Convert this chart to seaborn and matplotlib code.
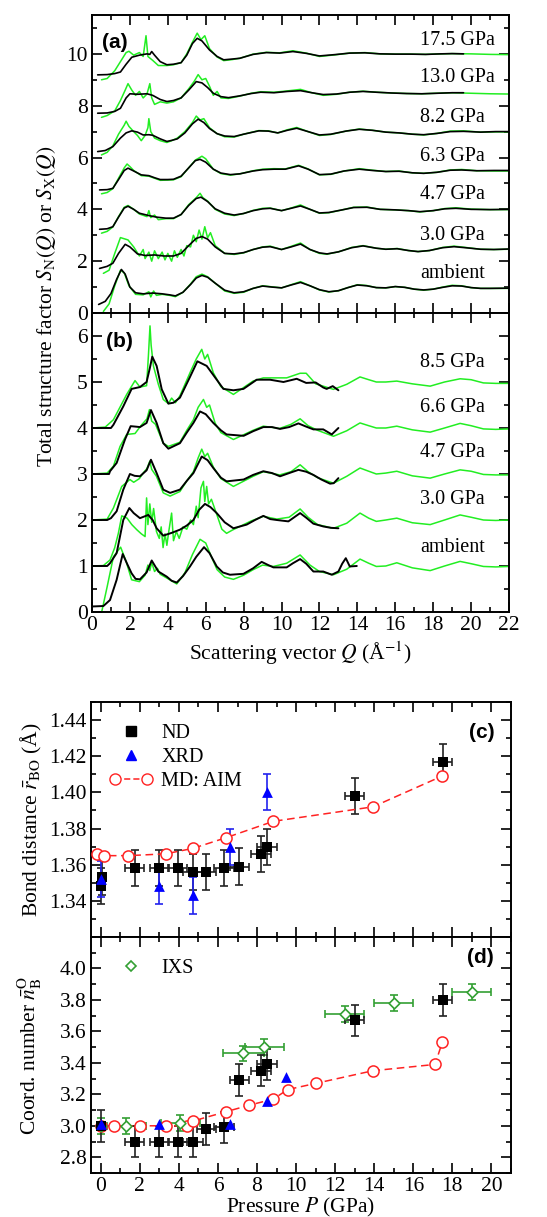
import numpy as np
import pandas as pd
import matplotlib
matplotlib.use("Agg")
import matplotlib.pyplot as plt
from matplotlib.ticker import MultipleLocator
from matplotlib.lines import Line2D
from matplotlib.legend_handler import HandlerLine2D
import seaborn as sns

# ---------------- data: panel (a)  (Q, S) pairs ----------------
a_amb_k = [(0.35,0.33),(0.7,0.45),(1.0,0.75),(1.3,1.3),(1.55,1.68),(1.75,1.5),(2.0,1.0),(2.3,0.78),(2.7,0.74),(3.2,0.77),(3.7,0.74),(4.1,0.70),(4.4,0.66),(4.8,0.80),(5.2,1.10),(5.5,1.35),(5.8,1.45),(6.1,1.38),(6.5,1.15),(7.0,0.88),(7.5,0.78),(8.0,0.82),(8.5,0.95),(9.0,1.04),(9.5,1.0),(10.0,0.97),(10.5,1.08),(11.0,1.18),(11.5,1.05),(12.0,0.90),(12.5,0.82),(13.0,0.86),(13.5,0.98),(14.0,1.08),(14.5,1.05),(15.0,0.98),(15.5,0.97),(16.0,1.02),(16.5,0.99),(17.0,0.92),(17.5,0.89),(18.0,0.92),(18.5,0.99),(19.0,1.05),(19.5,1.04),(20.0,0.98),(20.5,0.95),(21.0,0.95),(22.0,0.96)]
a_amb_g = [(0.6,0.06),(0.9,0.35),(1.2,1.05),(1.5,1.65),(1.7,1.55),(1.95,1.05),(2.3,0.72),(2.7,0.70),(3.0,0.82),(3.1,0.62),(3.25,0.85),(3.4,0.68),(3.7,0.72),(4.1,0.68),(4.4,0.63),(4.8,0.80),(5.2,1.12),(5.5,1.40),(5.8,1.50),(6.1,1.40),(6.5,1.15),(7.0,0.85),(7.5,0.76),(8.0,0.80),(8.5,0.95),(9.0,1.05),(9.5,1.01),(10.0,0.97),(10.5,1.09),(11.0,1.21),(11.5,1.05),(12.0,0.89),(12.5,0.81),(13.0,0.86),(13.5,0.98),(14.0,1.09),(14.5,1.06),(15.0,0.98),(15.5,0.97),(16.0,1.02),(16.5,0.99),(17.0,0.92),(17.5,0.88),(18.0,0.92),(18.5,1.0),(19.0,1.07),(19.5,1.05),(20.0,0.98),(20.5,0.95),(21.0,0.95),(22.0,0.95)]
a_30_k = [(0.4,1.72),(0.8,1.80),(1.1,1.92),(1.4,2.3),(1.75,2.65),(2.0,2.55),(2.4,2.28),(2.8,2.22),(3.3,2.24),(3.8,2.2),(4.3,2.2),(4.7,2.3),(5.1,2.6),(5.5,2.88),(5.8,2.95),(6.1,2.85),(6.5,2.55),(7.0,2.3),(7.5,2.28),(8.0,2.33),(8.5,2.45),(9.0,2.54),(9.4,2.56),(10.0,2.45),(10.5,2.55),(11.0,2.66),(11.5,2.45),(12.0,2.32),(12.4,2.28),(13.0,2.36),(13.7,2.52),(14.3,2.59),(15.0,2.50),(15.5,2.46),(16.1,2.48),(16.7,2.41),(17.2,2.37),(17.8,2.41),(18.5,2.52),(19.1,2.56),(19.7,2.52),(20.5,2.46),(21.2,2.45),(22.0,2.47)]
a_30_g = [(0.6,1.53),(0.9,1.65),(1.2,2.3),(1.5,2.91),(1.9,2.82),(2.2,2.55),(2.5,2.2),(2.7,2.45),(2.8,2.1),(3.0,2.35),(3.15,2.0),(3.3,2.4),(3.5,2.1),(3.7,2.35),(3.85,2.05),(4.0,2.3),(4.2,2.0),(4.35,2.4),(4.5,2.15),(4.7,2.45),(4.85,2.2),(5.0,2.6),(5.2,2.55),(5.35,3.0),(5.5,2.75),(5.65,3.2),(5.8,2.85),(5.95,3.33),(6.1,2.9),(6.25,3.1),(6.5,2.6),(7.0,2.3),(7.5,2.26),(8.0,2.32),(8.5,2.45),(9.0,2.55),(9.4,2.58),(10.0,2.45),(10.5,2.57),(11.0,2.70),(11.5,2.45),(12.0,2.3),(12.4,2.27),(13.0,2.36),(13.7,2.53),(14.3,2.6),(15.0,2.5),(15.5,2.46),(16.1,2.49),(16.7,2.41),(17.2,2.37),(17.8,2.41),(18.5,2.53),(19.1,2.58),(19.7,2.53),(20.5,2.46),(21.2,2.45),(22.0,2.46)]
a_47_k = [(0.4,3.23),(0.8,3.25),(1.1,3.33),(1.4,3.7),(1.7,4.05),(1.9,4.12),(2.2,4.0),(2.5,3.85),(3.0,3.76),(3.4,3.70),(3.9,3.66),(4.3,3.66),(4.7,3.8),(5.1,4.15),(5.5,4.42),(5.75,4.47),(6.1,4.3),(6.5,4.02),(7.0,3.85),(7.5,3.78),(8.0,3.84),(8.5,3.95),(9.0,4.02),(9.4,4.04),(10.0,3.95),(10.5,4.04),(11.0,4.13),(11.5,4.0),(12.0,3.86),(12.5,3.88),(13.2,3.98),(13.8,4.07),(14.5,4.08),(15.2,4.0),(16.0,3.98),(16.7,3.95),(17.3,3.91),(18.0,3.95),(18.6,4.02),(19.2,4.04),(20.0,4.0),(21.0,3.99),(22.0,4.0)]
a_47_g = [(0.5,3.08),(0.8,3.15),(1.1,3.32),(1.4,3.72),(1.7,4.08),(1.9,4.15),(2.2,4.0),(2.5,3.82),(2.9,3.72),(3.0,3.95),(3.1,3.68),(3.3,3.78),(3.5,3.6),(3.9,3.64),(4.3,3.64),(4.7,3.8),(5.1,4.18),(5.5,4.45),(5.7,4.62),(5.85,4.45),(6.1,4.32),(6.5,4.0),(7.0,3.82),(7.5,3.76),(8.0,3.84),(8.5,3.96),(9.0,4.04),(9.4,4.05),(10.0,3.95),(10.5,4.05),(11.0,4.17),(11.5,4.0),(12.0,3.85),(12.5,3.87),(13.2,3.98),(13.8,4.08),(14.5,4.09),(15.2,4.0),(16.0,3.98),(16.7,3.95),(17.3,3.9),(18.0,3.95),(18.6,4.03),(19.2,4.06),(20.0,4.01),(21.0,3.99),(22.0,3.99)]
a_63_k = [(0.4,4.75),(0.8,4.76),(1.1,4.81),(1.4,5.15),(1.7,5.5),(1.9,5.59),(2.2,5.48),(2.6,5.33),(3.0,5.3),(3.3,5.22),(3.6,5.15),(4.0,5.15),(4.3,5.16),(4.7,5.28),(5.1,5.6),(5.45,5.88),(5.7,5.93),(6.0,5.82),(6.4,5.55),(6.8,5.4),(7.3,5.34),(7.8,5.37),(8.5,5.48),(9.0,5.53),(9.6,5.55),(10.2,5.55),(10.9,5.68),(11.4,5.55),(12.0,5.34),(12.6,5.36),(13.3,5.48),(14.1,5.55),(14.8,5.5),(15.5,5.46),(16.2,5.47),(16.9,5.41),(17.5,5.39),(18.2,5.43),(18.9,5.51),(19.5,5.52),(20.3,5.49),(21.2,5.5),(22.0,5.5)]
a_63_g = [(0.5,4.6),(0.8,4.65),(1.1,4.8),(1.4,5.2),(1.7,5.6),(1.85,5.75),(2.0,5.65),(2.2,5.5),(2.6,5.3),(3.0,5.28),(3.3,5.2),(3.6,5.12),(4.0,5.13),(4.3,5.14),(4.7,5.26),(5.1,5.6),(5.45,5.9),(5.8,6.05),(6.0,5.95),(6.4,5.55),(6.8,5.38),(7.3,5.32),(7.8,5.37),(8.5,5.49),(9.0,5.55),(9.6,5.57),(10.2,5.56),(10.9,5.7),(11.4,5.56),(12.0,5.33),(12.6,5.35),(13.3,5.48),(14.1,5.57),(14.8,5.51),(15.5,5.46),(16.2,5.48),(16.9,5.41),(17.5,5.39),(18.2,5.43),(18.9,5.52),(19.5,5.54),(20.3,5.49),(21.2,5.48),(22.0,5.48)]
a_82_k = [(0.3,6.23),(0.7,6.27),(1.1,6.42),(1.5,6.75),(1.8,6.95),(2.1,7.03),(2.4,6.98),(2.7,6.87),(3.0,6.88),(3.2,6.86),(3.6,6.72),(3.95,6.62),(4.2,6.66),(4.5,6.72),(4.9,6.95),(5.3,7.3),(5.6,7.48),(5.9,7.35),(6.2,7.12),(6.6,6.92),(7.0,6.83),(7.5,6.81),(8.0,6.9),(8.8,7.03),(9.3,7.02),(9.8,6.95),(10.3,7.05),(10.8,7.13),(11.4,7.0),(12.0,6.87),(12.6,6.9),(13.4,7.02),(14.1,7.09),(14.8,7.05),(15.5,6.98),(16.2,6.95),(16.9,6.9),(17.5,6.88),(18.2,6.93),(18.9,7.0),(19.6,7.01),(20.5,6.98),(21.3,7.0),(22.0,7.0)]
a_82_g = [(0.5,6.1),(0.8,6.2),(1.1,6.45),(1.4,6.9),(1.7,7.25),(1.8,7.4),(1.95,7.2),(2.2,7.0),(2.4,6.85),(2.6,6.65),(2.8,6.85),(2.95,7.15),(3.0,7.5),(3.1,7.0),(3.3,6.75),(3.6,6.65),(3.95,6.58),(4.2,6.65),(4.5,6.75),(4.9,7.0),(5.3,7.35),(5.5,7.6),(5.7,7.45),(5.9,7.5),(6.2,7.15),(6.6,6.92),(7.0,6.8),(7.5,6.79),(8.0,6.9),(8.8,7.04),(9.3,7.03),(9.8,6.95),(10.3,7.07),(10.8,7.16),(11.4,7.0),(12.0,6.85),(12.6,6.89),(13.4,7.02),(14.1,7.1),(14.8,7.05),(15.5,6.98),(16.2,6.95),(16.9,6.9),(17.5,6.87),(18.2,6.93),(18.9,7.02),(19.6,7.03),(20.5,6.98),(21.3,6.99),(22.0,6.99)]
a_130_k = [(0.3,7.71),(0.8,7.72),(1.2,7.78),(1.5,7.9),(1.8,8.3),(2.0,8.46),(2.4,8.44),(2.9,8.46),(3.2,8.4),(3.6,8.24),(3.95,8.16),(4.3,8.2),(4.7,8.3),(5.1,8.6),(5.5,8.93),(5.8,8.88),(6.1,8.7),(6.4,8.48),(6.8,8.35),(7.2,8.31),(7.8,8.38),(8.4,8.47),(8.9,8.52),(9.6,8.5),(10.3,8.55),(11.0,8.58),(11.6,8.5),(12.2,8.43),(12.9,8.45),(13.6,8.52),(14.3,8.55),(15.0,8.52),(15.8,8.49),(16.6,8.47),(17.4,8.46),(18.2,8.48),(19.0,8.5),(19.6,8.5)]
a_130_g = [(0.5,7.55),(0.8,7.62),(1.2,7.8),(1.5,8.2),(1.75,8.6),(1.9,8.85),(2.1,8.6),(2.3,8.4),(2.5,8.55),(2.7,8.3),(2.9,8.45),(3.05,8.85),(3.15,8.3),(3.3,8.05),(3.6,8.15),(3.95,8.1),(4.3,8.15),(4.7,8.3),(5.1,8.65),(5.4,8.95),(5.6,9.2),(5.8,9.0),(6.0,9.05),(6.2,8.75),(6.4,8.4),(6.6,8.55),(6.8,8.3),(7.2,8.28),(7.8,8.37),(8.4,8.48),(8.9,8.54),(9.6,8.52),(10.3,8.57),(11.0,8.63),(11.6,8.5),(12.2,8.4),(12.9,8.44),(13.6,8.52),(14.3,8.56),(15.0,8.52),(15.8,8.49),(16.6,8.47),(17.4,8.46),(18.2,8.48),(19.0,8.5),(20.0,8.48),(21.0,8.46),(22.0,8.45)]
a_175_k = [(0.3,9.19),(0.8,9.2),(1.2,9.24),(1.5,9.3),(1.8,9.6),(2.1,9.87),(2.5,9.95),(2.9,10.0),(3.05,9.98),(3.15,10.09),(3.3,9.95),(3.6,9.7),(3.95,9.58),(4.3,9.6),(4.7,9.66),(5.0,9.95),(5.3,10.4),(5.55,10.6),(5.8,10.5),(6.2,10.15),(6.6,9.9),(6.95,9.77),(7.4,9.8),(7.8,9.83),(8.5,9.98),(9.2,10.05),(9.9,10.03),(10.6,10.09),(11.3,10.02),(12.0,9.92),(12.8,9.97),(13.6,10.03),(14.4,10.04),(15.2,10.0),(16.0,9.99),(16.8,9.99),(17.6,9.98),(18.4,10.0),(19.0,10.01),(19.6,10.0)]
a_175_g = [(0.5,9.0),(0.8,9.05),(1.2,9.35),(1.5,9.7),(1.8,10.05),(1.95,10.1),(2.2,9.95),(2.5,10.05),(2.7,9.9),(2.85,10.7),(2.95,9.9),(3.2,9.75),(3.5,9.55),(3.95,9.55),(4.3,9.58),(4.7,9.66),(5.0,10.0),(5.3,10.45),(5.55,10.8),(5.75,10.55),(5.95,10.7),(6.2,10.2),(6.6,9.88),(6.95,9.74),(7.4,9.78),(7.8,9.83),(8.5,9.99),(9.2,10.06),(9.9,10.04),(10.6,10.12),(11.3,10.03),(12.0,9.9),(12.8,9.96),(13.6,10.03),(14.4,10.05),(15.2,10.0),(16.0,9.99),(16.8,9.99),(17.6,9.98),(18.4,10.0),(19.0,10.01),(20.0,10.0),(21.0,9.98),(22.0,9.97)]

a_labels = ["ambient", "3.0 GPa", "4.7 GPa", "6.3 GPa", "8.2 GPa", "13.0 GPa", "17.5 GPa"]
a_label_y = [1.51, 3.01, 4.56, 6.04, 7.56, 9.1, 10.51]

# ---------------- data: panel (b) ----------------
b_amb_k = [(0.0,0.12),(0.6,0.13),(0.95,0.26),(1.3,0.7),(1.62,1.26),(1.85,1.05),(2.09,0.84),(2.3,0.72),(2.53,0.71),(2.88,0.86),(3.15,1.12),(3.5,0.88),(3.94,0.77),(4.2,0.68),(4.47,0.64),(4.8,0.78),(5.17,0.99),(5.5,1.2),(5.91,1.41),(6.2,1.28),(6.58,0.99),(6.9,0.86),(7.28,0.81),(7.99,0.83),(8.5,0.95),(8.95,1.09),(9.3,1.02),(9.57,0.97),(10.27,0.97),(10.6,1.06),(10.98,1.15),(11.3,1.05),(11.68,0.88),(12.2,0.88),(12.65,0.81),(13.0,0.88),(13.2,1.05),(13.39,1.17),(13.6,0.99),(13.97,1.0)]
b_amb_g = [(0.51,0.0),(0.8,0.55),(1.13,1.2),(1.51,1.41),(1.8,1.1),(2.09,0.70),(2.5,0.66),(2.8,0.8),(2.95,1.02),(3.05,0.9),(3.15,1.08),(3.3,0.88),(3.45,0.95),(3.6,0.82),(3.94,0.74),(4.47,0.61),(4.9,0.85),(5.3,1.25),(5.7,1.58),(6.0,1.5),(6.3,1.2),(6.6,0.92),(7.0,0.76),(7.46,0.71),(8.0,0.80),(8.5,0.92),(9.0,1.02),(9.57,0.99),(10.27,1.06),(10.98,1.24),(11.5,1.02),(12.0,0.88),(12.74,0.81),(13.44,0.93),(14.14,1.15),(14.6,1.06),(15.0,0.99),(15.5,1.0),(16.08,1.07),(16.9,0.96),(17.84,0.9),(18.6,1.0),(19.42,1.10),(20.0,1.05),(20.65,0.99),(21.3,0.98),(22.0,0.99)]
b_30_k = [(0.0,1.0),(0.8,1.0),(0.95,1.06),(1.3,1.28),(1.65,2.0),(1.97,2.26),(2.2,2.15),(2.53,2.04),(2.97,2.11),(3.2,2.0),(3.41,1.82),(3.76,1.66),(4.2,1.72),(4.64,1.79),(5.0,1.88),(5.35,2.0),(5.65,2.22),(5.96,2.35),(6.25,2.28),(6.58,2.15),(7.0,1.95),(7.46,1.82),(8.16,1.9),(8.6,2.0),(9.04,2.09),(9.4,2.02),(9.75,2.0),(10.36,1.97),(10.98,2.15),(11.3,2.05),(11.68,1.92),(12.2,1.86),(12.6,1.83),(13.0,1.82)]
b_30_g = [(0.0,1.0),(0.6,1.01),(0.95,1.13),(1.2,1.4),(1.39,1.71),(1.57,2.09),(1.85,2.04),(2.1,1.9),(2.36,1.79),(2.6,1.7),(2.8,1.64),(2.88,2.48),(2.95,1.9),(3.05,2.35),(3.15,1.95),(3.25,2.25),(3.4,1.75),(3.55,1.6),(3.65,1.85),(3.75,1.4),(3.85,1.7),(3.95,1.45),(4.05,1.75),(4.2,2.15),(4.3,1.55),(4.45,1.75),(4.6,1.6),(4.8,1.85),(5.0,1.8),(5.2,2.0),(5.35,1.9),(5.5,2.3),(5.6,2.05),(5.75,2.7),(5.88,2.84),(5.95,2.4),(6.05,2.73),(6.15,2.35),(6.3,2.45),(6.6,2.1),(6.85,1.8),(7.1,1.71),(7.4,1.78),(7.8,1.86),(8.4,1.98),(9.04,2.08),(9.75,2.02),(10.4,2.06),(10.98,2.24),(11.4,2.06),(11.9,1.9),(12.74,1.82),(13.44,1.93),(14.14,2.15),(14.6,2.04),(15.0,1.97),(15.5,2.0),(16.08,2.04),(16.9,1.94),(17.84,1.9),(18.6,2.0),(19.42,2.11),(20.0,2.06),(20.65,2.0),(21.3,1.99),(22.0,2.0)]
b_47_k = [(0.0,2.0),(0.8,2.0),(1.0,2.04),(1.3,2.19),(1.65,2.66),(2.0,3.0),(2.25,2.96),(2.53,2.95),(2.88,3.08),(3.11,3.31),(3.41,3.02),(3.76,2.66),(4.12,2.59),(4.64,2.66),(5.0,2.85),(5.35,3.02),(5.79,3.38),(6.1,3.3),(6.4,3.13),(6.8,2.92),(7.1,2.84),(8.0,2.88),(8.5,2.98),(9.04,3.06),(9.5,3.02),(9.92,2.95),(10.4,3.02),(10.89,3.09),(11.3,3.05),(11.68,2.98),(12.1,2.88),(12.56,2.79),(12.75,2.8),(13.0,2.91)]
b_47_g = [(0.0,2.0),(0.8,2.02),(1.13,2.26),(1.57,2.73),(2.0,2.88),(2.2,2.82),(2.5,2.9),(2.7,3.02),(2.9,3.12),(3.05,3.28),(3.15,3.1),(3.4,2.95),(3.76,2.59),(4.12,2.52),(4.64,2.62),(5.0,2.85),(5.35,3.05),(5.6,3.35),(5.79,3.54),(5.95,3.38),(6.1,3.45),(6.4,3.15),(6.8,2.9),(7.46,2.73),(8.5,2.95),(9.04,3.05),(9.9,2.98),(10.5,3.05),(10.98,3.2),(11.4,3.05),(11.9,2.92),(12.74,2.8),(13.44,2.95),(14.14,3.13),(14.6,3.06),(15.0,3.0),(15.5,3.02),(16.08,3.06),(16.9,2.96),(17.84,2.91),(18.6,3.0),(19.42,3.09),(20.0,3.06),(20.65,2.99),(21.3,2.98),(22.0,2.98)]
b_66_k = [(0.0,3.0),(0.9,3.0),(0.95,3.06),(1.3,3.24),(1.74,3.75),(2.04,4.04),(2.3,4.03),(2.53,4.02),(2.88,4.11),(3.11,4.39),(3.41,4.11),(3.76,3.67),(4.03,3.55),(4.64,3.67),(5.0,3.9),(5.35,4.11),(5.7,4.36),(6.0,4.3),(6.4,4.11),(6.8,3.95),(7.1,3.86),(8.0,3.83),(8.5,3.93),(9.04,4.02),(9.5,4.02),(9.92,3.98),(10.4,4.02),(10.89,4.1),(11.3,4.03),(11.68,3.97),(12.2,3.97),(12.65,3.86),(13.0,4.0)]
b_66_g = [(0.0,3.0),(0.8,3.02),(1.13,3.17),(1.48,3.6),(1.83,3.86),(2.27,3.88),(2.6,4.06),(2.9,4.2),(3.03,4.4),(3.15,4.15),(3.35,4.08),(3.76,3.67),(4.03,3.6),(4.64,3.69),(5.0,3.95),(5.35,4.18),(5.6,4.45),(5.88,4.62),(6.05,4.45),(6.2,4.5),(6.5,4.1),(6.8,3.9),(7.46,3.75),(8.5,3.95),(9.04,4.04),(9.9,3.99),(10.5,4.08),(10.98,4.2),(11.4,4.05),(11.9,3.95),(12.74,3.82),(13.44,3.94),(14.14,4.11),(14.6,4.05),(15.0,4.0),(15.5,4.0),(16.08,4.04),(16.9,3.96),(17.84,3.91),(18.6,4.0),(19.42,4.1),(20.0,4.05),(20.65,3.98),(21.3,3.97),(22.0,3.98)]
b_85_k = [(0.0,4.0),(1.0,4.0),(1.13,4.07),(1.65,4.47),(2.09,4.85),(2.53,4.89),(2.88,5.0),(3.05,5.3),(3.18,5.55),(3.41,5.35),(3.68,4.84),(4.03,4.53),(4.3,4.55),(4.64,4.66),(5.17,5.11),(5.56,5.45),(6.05,5.35),(6.58,5.05),(6.93,4.85),(7.46,4.82),(7.99,4.85),(8.69,5.05),(9.39,5.05),(10.1,5.0),(10.8,5.07),(11.3,4.98),(11.8,4.99),(12.2,4.88),(12.38,4.85),(12.7,4.91),(13.0,4.82)]
b_85_g = [(0.0,4.0),(0.7,4.02),(1.13,4.18),(1.83,4.73),(2.27,5.03),(2.53,4.89),(2.88,4.92),(2.98,5.6),(3.06,6.22),(3.12,5.8),(3.24,5.35),(3.5,4.95),(3.76,4.62),(4.03,4.53),(4.2,4.65),(4.4,4.55),(4.64,4.7),(5.17,5.2),(5.5,5.5),(5.79,5.71),(5.95,5.5),(6.1,5.6),(6.4,5.2),(6.8,4.9),(7.46,4.73),(8.5,5.02),(9.04,5.09),(10.27,5.09),(10.98,5.19),(11.3,5.19),(11.8,4.96),(12.74,4.84),(13.44,4.95),(14.14,5.11),(14.6,5.05),(15.0,5.0),(15.5,5.0),(16.08,5.02),(16.9,4.96),(17.84,4.91),(18.6,5.0),(19.42,5.07),(20.0,5.05),(20.65,4.98),(21.3,4.97),(22.0,4.97)]

b_labels = ["ambient", "3.0 GPa", "4.7 GPa", "6.6 GPa", "8.5 GPa"]
b_label_y = [1.41, 2.45, 3.46, 4.44, 5.42]

# ---------------- data: panel (c) bond distance ----------------
c_nd_P    = [0.0, 0.05, 1.73, 3.0, 3.93, 4.71, 5.39, 6.31, 7.09, 8.2, 8.5, 13.0, 17.5]
c_nd_r    = [1.348, 1.353, 1.358, 1.358, 1.358, 1.356, 1.356, 1.358, 1.359, 1.366, 1.370, 1.398, 1.417]
c_nd_xerr = [0.0, 0.0, 0.5, 0.5, 0.5, 0.5, 0.5, 0.5, 0.5, 0.5, 0.5, 0.5, 0.5]
c_nd_yerr = [0.01] * 13
c_xrd_P   = [0.0, 3.0, 4.7, 6.6, 8.5]
c_xrd_r   = [1.352, 1.348, 1.343, 1.370, 1.400]
c_xrd_yerr = [0.01, 0.01, 0.01, 0.01, 0.01]
c_md_P    = [-0.2, 0.15, 1.41, 3.32, 4.71, 6.43, 8.84, 13.93, 17.47]
c_md_r    = [1.366, 1.365, 1.365, 1.366, 1.369, 1.375, 1.384, 1.392, 1.409]

# ---------------- data: panel (d) coordination number ----------------
d_nd_P    = [0.0, 1.73, 3.0, 3.93, 4.71, 5.41, 6.31, 7.09, 8.2, 8.5, 13.0, 17.5]
d_nd_n    = [3.0, 2.90, 2.90, 2.90, 2.90, 2.98, 2.99, 3.29, 3.35, 3.39, 3.67, 3.80]
d_nd_xerr = [0.0, 0.5, 0.5, 0.5, 0.5, 0.5, 0.5, 0.5, 0.5, 0.5, 0.5, 0.5]
d_nd_yerr = [0.1] * 12
d_xrd_P   = [0.0, 3.0, 6.6, 8.5, 9.5]
d_xrd_n   = [3.01, 3.01, 3.01, 3.16, 3.31]
d_ixs_P   = [0.0, 1.31, 4.08, 7.3, 8.38, 12.5, 15.0, 19.0]
d_ixs_n   = [3.0, 3.0, 3.02, 3.46, 3.50, 3.71, 3.78, 3.85]
d_ixs_xerr = [0.0, 1.0, 1.0, 1.05, 1.0, 1.0, 1.0, 1.0]
d_ixs_yerr = [0.05] * 8
d_md_P    = [0.0, 0.68, 2.0, 3.32, 4.39, 4.71, 6.43, 7.57, 8.84, 9.56, 11.02, 13.93, 17.11, 17.48]
d_md_n    = [3.0, 3.0, 3.0, 3.0, 3.0, 3.03, 3.09, 3.13, 3.17, 3.23, 3.27, 3.35, 3.39, 3.53]

# ---------------- style ----------------
sns.set_theme(style="ticks", rc={
    "axes.edgecolor": "black", "axes.linewidth": 1.4,
    "xtick.color": "black", "ytick.color": "black",
    "xtick.direction": "in", "ytick.direction": "in",
    "xtick.top": True, "ytick.right": True,
    "xtick.major.size": 7, "ytick.major.size": 7,
    "xtick.minor.size": 3.5, "ytick.minor.size": 3.5,
    "xtick.major.width": 1.2, "ytick.major.width": 1.2,
    "xtick.minor.width": 1.2, "ytick.minor.width": 1.2,
    "axes.labelcolor": "black", "text.color": "black",
})
plt.rcParams["font.family"] = ["Liberation Serif", "DejaVu Serif"]
plt.rcParams["mathtext.fontset"] = "stix"

GREEN = "#22ee22"
TICKFS = 15.5
LABFS = 15.5
TXTFS = 14.5
PANEL_FONT = dict(family=["Liberation Sans", "DejaVu Sans"], weight="bold", fontsize=15)

W, H = 547, 1217
fig = plt.figure(figsize=(W / 100, H / 100), dpi=100)
ax_a = fig.add_axes([92 / W, 1 - 313 / H, 417 / W, 298 / H])
ax_b = fig.add_axes([92 / W, 1 - 612 / H, 417 / W, 299 / H])
ax_c = fig.add_axes([91 / W, 1 - 937 / H, 420 / W, 235 / H])
ax_d = fig.add_axes([91 / W, 1 - 1173 / H, 420 / W, 236 / H])


def draw_curve(ax, pts, color, lw):
    df = pd.DataFrame(pts, columns=["Q", "S"])
    sns.lineplot(data=df, x="Q", y="S", ax=ax, color=color, lw=lw,
                 sort=False, estimator=None, legend=False)


# panel (a)
for g, k in [(a_amb_g, a_amb_k), (a_30_g, a_30_k), (a_47_g, a_47_k), (a_63_g, a_63_k),
             (a_82_g, a_82_k), (a_130_g, a_130_k), (a_175_g, a_175_k)]:
    draw_curve(ax_a, g, GREEN, 1.1)
    draw_curve(ax_a, k, "black", 1.2)
for lab, y in zip(a_labels, a_label_y):
    ax_a.text(17.33, y, lab, fontsize=TXTFS, va="center", ha="left")
ax_a.set_xlim(0, 22)
ax_a.set_ylim(0, 11.5)
ax_a.xaxis.set_major_locator(MultipleLocator(2))
ax_a.xaxis.set_minor_locator(MultipleLocator(1))
ax_a.yaxis.set_major_locator(MultipleLocator(2))
ax_a.yaxis.set_minor_locator(MultipleLocator(1))
ax_a.tick_params(labelbottom=False, labelsize=TICKFS, which="both", top=True, right=True, pad=3)
ax_a.set_xlabel("")
ax_a.set_ylabel("")
ax_a.text(0.024, 0.94, "(a)", transform=ax_a.transAxes, va="top", ha="left", **PANEL_FONT)

# panel (b)
for g, k in [(b_amb_g, b_amb_k), (b_30_g, b_30_k), (b_47_g, b_47_k), (b_66_g, b_66_k), (b_85_g, b_85_k)]:
    draw_curve(ax_b, g, GREEN, 1.1)
    draw_curve(ax_b, k, "black", 1.4)
for lab, y in zip(b_labels, b_label_y):
    ax_b.text(17.33, y, lab, fontsize=TXTFS, va="center", ha="left")
ax_b.set_xlim(0, 22)
ax_b.set_ylim(0, 6.5)
ax_b.xaxis.set_major_locator(MultipleLocator(2))
ax_b.xaxis.set_minor_locator(MultipleLocator(1))
ax_b.yaxis.set_major_locator(MultipleLocator(1))
ax_b.yaxis.set_minor_locator(MultipleLocator(0.5))
ax_b.tick_params(labelsize=TICKFS, which="both", top=True, right=True, pad=3)
ax_b.set_xlabel(r"Scattering vector $Q$ (Å$^{-1}$)", fontsize=LABFS, labelpad=3)
ax_b.set_ylabel("")
ax_b.text(0.034, 0.936, "(b)", transform=ax_b.transAxes, va="top", ha="left", **PANEL_FONT)

fig.text(47 / W, 1 - 306 / H, r"Total structure factor $S_{\mathrm{N}}(Q)$ or $S_{\mathrm{X}}(Q)$",
         rotation=90, va="center", ha="center", fontsize=LABFS)

# panel (c)
ax_c.errorbar(c_nd_P, c_nd_r, xerr=c_nd_xerr, yerr=c_nd_yerr, fmt="none",
              ecolor="#222222", elinewidth=1.2, capsize=3, capthick=1.2, zorder=2)
ax_c.errorbar(c_xrd_P, c_xrd_r, yerr=c_xrd_yerr, fmt="none",
              ecolor="#2222ee", elinewidth=1.2, capsize=3, capthick=1.2, zorder=2)
sns.lineplot(x=c_md_P, y=c_md_r, ax=ax_c, color="#ff2222", lw=1.1, linestyle=(0, (5, 3)),
             marker="o", markersize=8, markerfacecolor="white", markeredgecolor="#ff2222",
             markeredgewidth=1.1, sort=False, estimator=None, zorder=3)
sns.scatterplot(x=c_nd_P, y=c_nd_r, ax=ax_c, marker="s", s=55, color="black",
                edgecolor="black", linewidth=0, zorder=4)
sns.scatterplot(x=c_xrd_P, y=c_xrd_r, ax=ax_c, marker="^", s=60, color="blue",
                edgecolor="blue", linewidth=0, zorder=4)
ax_c.set_xlim(-0.5, 21)
ax_c.set_ylim(1.32, 1.45)
ax_c.xaxis.set_major_locator(MultipleLocator(2))
ax_c.xaxis.set_minor_locator(MultipleLocator(1))
ax_c.set_yticks([1.34, 1.36, 1.38, 1.40, 1.42, 1.44])
ax_c.set_yticklabels(["1.34", "1.36", "1.38", "1.40", "1.42", "1.44"])
ax_c.yaxis.set_minor_locator(MultipleLocator(0.01))
ax_c.tick_params(labelbottom=False, labelsize=TICKFS, which="both", top=True, right=True, pad=3)
ax_c.set_ylabel(r"Bond distance $\bar{r}_{\mathrm{BO}}$ (Å)", fontsize=LABFS)
ax_c.yaxis.set_label_coords(-0.112, 0.5)
ax_c.text(0.96, 0.872, "(c)", transform=ax_c.transAxes, va="center", ha="right", **PANEL_FONT)
h_nd = Line2D([], [], marker="s", ls="none", color="black", markersize=7)
h_xrd = Line2D([], [], marker="^", ls="none", color="blue", markersize=7)
h_md = Line2D([], [], marker="o", ls=(0, (4, 2)), color="#ff2222", markerfacecolor="white",
              markersize=8, lw=1.1)
ax_c.legend([h_nd, h_xrd, h_md], ["ND", "XRD", "MD: AIM"], loc="upper left",
            bbox_to_anchor=(0.0, 0.985), frameon=False, fontsize=TXTFS, handlelength=2.2,
            labelspacing=0.25, handletextpad=0.4,
            handler_map={h_nd: HandlerLine2D(numpoints=1), h_xrd: HandlerLine2D(numpoints=1),
                         h_md: HandlerLine2D(numpoints=2)})

# panel (d)
ax_d.errorbar(d_ixs_P, d_ixs_n, xerr=d_ixs_xerr, yerr=d_ixs_yerr, fmt="none",
              ecolor="#33a033", elinewidth=1.2, capsize=3, capthick=1.2, zorder=2)
ax_d.errorbar(d_nd_P, d_nd_n, xerr=d_nd_xerr, yerr=d_nd_yerr, fmt="none",
              ecolor="#222222", elinewidth=1.2, capsize=3, capthick=1.2, zorder=2)
sns.lineplot(x=d_md_P, y=d_md_n, ax=ax_d, color="#ff2222", lw=1.1, linestyle=(0, (5, 3)),
             marker="o", markersize=8, markerfacecolor="white", markeredgecolor="#ff2222",
             markeredgewidth=1.1, sort=False, estimator=None, zorder=3)
sns.scatterplot(x=d_ixs_P, y=d_ixs_n, ax=ax_d, marker="D", s=30, facecolor="white",
                edgecolor="#33a033", linewidth=1.2, zorder=4)
sns.scatterplot(x=d_nd_P, y=d_nd_n, ax=ax_d, marker="s", s=55, color="black",
                edgecolor="black", linewidth=0, zorder=5)
sns.scatterplot(x=d_xrd_P, y=d_xrd_n, ax=ax_d, marker="^", s=60, color="blue",
                edgecolor="blue", linewidth=0, zorder=5)
ax_d.set_xlim(-0.5, 21)
ax_d.set_ylim(2.7, 4.2)
ax_d.xaxis.set_major_locator(MultipleLocator(2))
ax_d.xaxis.set_minor_locator(MultipleLocator(1))
ax_d.set_yticks([2.8, 3.0, 3.2, 3.4, 3.6, 3.8, 4.0])
ax_d.set_yticklabels(["2.8", "3.0", "3.2", "3.4", "3.6", "3.8", "4.0"])
ax_d.yaxis.set_minor_locator(MultipleLocator(0.1))
ax_d.tick_params(labelsize=TICKFS, which="both", top=True, right=True, pad=3)
ax_d.set_xlabel(r"Pressure $P$ (GPa)", fontsize=LABFS, labelpad=0)
ax_d.set_ylabel(r"Coord. number $\bar{n}_{\mathrm{B}}^{\mathrm{O}}$", fontsize=LABFS)
ax_d.yaxis.set_label_coords(-0.112, 0.5)
ax_d.text(0.96, 0.915, "(d)", transform=ax_d.transAxes, va="center", ha="right", **PANEL_FONT)
h_ixs = Line2D([], [], marker="D", ls="none", color="#33a033", markerfacecolor="white",
               markersize=5.5, markeredgewidth=1.2)
ax_d.legend([h_ixs], ["IXS"], loc="upper left", bbox_to_anchor=(0.0, 0.985), frameon=False,
            fontsize=TXTFS, handlelength=2.2, handletextpad=0.4,
            handler_map={h_ixs: HandlerLine2D(numpoints=1)})

fig.savefig("out.png", dpi=100)
